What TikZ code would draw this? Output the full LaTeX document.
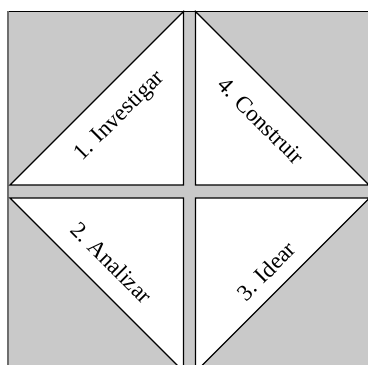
\documentclass[tikz,border=0pt]{standalone}
\usepackage{fontspec}
\setmainfont{Liberation Serif}
\definecolor{bggray}{RGB}{201,201,201}
\definecolor{edgegray}{RGB}{110,110,110}
\begin{document}
\begin{tikzpicture}[x=1pt,y=-1pt,
  tri/.style={draw=black,fill=white,line width=1.1pt,line join=miter},
  lbl/.style={font=\fontsize{23}{27}\selectfont,inner sep=0pt}]
\useasboundingbox (0,0) rectangle (368,365);
\clip (0,0) rectangle (368,365);
\fill[white] (0,0) rectangle (368,365);
\fill[bggray] (8,11.5) rectangle (375,375);
\draw[black,line width=0.9pt] (8,11.5) -- (375,11.5);
\draw[edgegray,line width=1.6pt] (7.8,11) -- (7.8,375);
% triangles
\draw[tri] (10,185) -- (183.5,11.5) -- (183.5,185) -- cycle;
\draw[tri] (195.5,11.5) -- (195.5,185) -- (369,185) -- cycle;
\draw[tri] (10,198) -- (183.5,198) -- (183.5,371.5) -- cycle;
\draw[tri] (195.5,198) -- (369.5,198) -- (195.5,372) -- cycle;
% labels
\node[lbl,rotate=45]  (l1) at (120,116.5) {1. Investigar};
\node[lbl,rotate=-45] (l4) at (261,121) {4. Construir};
\node[lbl,rotate=-45] (l2) at (111.5,262.5) {2. Analizar};
\node[lbl,rotate=45]  (l3) at (266,271) {3. Idear};
\end{tikzpicture}
\end{document}
